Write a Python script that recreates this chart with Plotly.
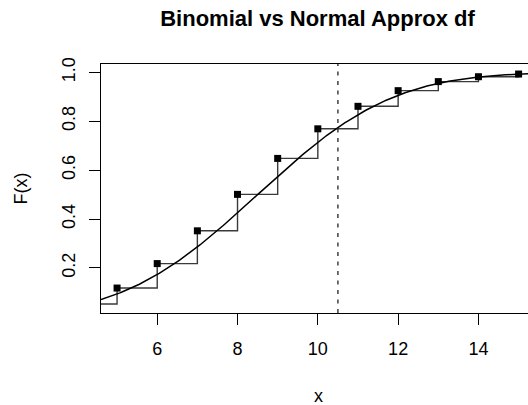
import math
import plotly.graph_objects as go

# Data
x_vals = [4, 5, 6, 7, 8, 9, 10, 11, 12, 13, 14, 15]
cdf_vals = [0.053, 0.118, 0.218, 0.352, 0.501, 0.648, 0.769, 0.861, 0.925, 0.962, 0.982, 0.993]
point_x = x_vals[1:]
point_y = cdf_vals[1:]
norm_mean = 8.5
norm_sd = 2.656
cut_x = 10.5
x_range = [4.6, 15.234]
y_range = [0.016, 1.034]
x_ticks = [6, 8, 10, 12, 14]
y_ticks = [0.2, 0.4, 0.6, 0.8, 1.0]
y_tick_text = ["0.2", "0.4", "0.6", "0.8", "1.0"]

# Normal approximation curve
n_grid = 300
grid = [x_range[0] + (x_range[1] + 0.2 - x_range[0]) * i / (n_grid - 1) for i in range(n_grid)]
curve = [0.5 * (1 + math.erf((g - norm_mean) / (norm_sd * math.sqrt(2)))) for g in grid]

FONT = "Liberation Sans, Arial, sans-serif"
L, T, B = 101, 64, 92
PW = 528 - L
PH = 405 - T - B

fig = go.Figure()
fig.add_trace(go.Scatter(x=x_vals, y=cdf_vals, mode="lines", line_shape="hv",
                         line=dict(color="#3a3a3a", width=1.4), showlegend=False))
fig.add_trace(go.Scatter(x=grid, y=curve, mode="lines",
                         line=dict(color="black", width=1.5), showlegend=False))
fig.add_trace(go.Scatter(x=point_x, y=point_y, mode="markers",
                         marker=dict(symbol="square", size=7, color="black"), showlegend=False))

fig.add_shape(type="line", xref="x", yref="paper", x0=cut_x, x1=cut_x, y0=0, y1=1,
              line=dict(color="#333333", width=1.4, dash="4px,5.5px"))

fig.update_layout(
    width=528, height=405,
    margin=dict(l=L, r=0, t=T, b=B, autoexpand=False),
    plot_bgcolor="white", paper_bgcolor="white",
    font=dict(family=FONT, size=18, color="black"),
    title=dict(text="<b>Binomial vs Normal Approx df</b>", x=317.5 / 528, xref="container",
               xanchor="center", y=1 - 18 / 405, yref="container", yanchor="middle",
               automargin=False,
               font=dict(size=22, family=FONT, color="black")),
    xaxis=dict(range=x_range, tickvals=x_ticks, showgrid=False, zeroline=False,
               showline=True, linecolor="black", linewidth=1.4, mirror=True,
               ticks="outside", ticklen=11, tickwidth=1.4, tickcolor="black",
               ticklabelstandoff=8,
               tickfont=dict(size=18), automargin=False),
    yaxis=dict(range=y_range, tickvals=y_ticks, ticktext=y_tick_text, showgrid=False,
               zeroline=False, showline=True, linecolor="black", linewidth=1.4,
               ticks="outside", ticklen=11, tickwidth=1.4, tickcolor="black",
               ticklabelstandoff=7,
               tickangle=-90, tickfont=dict(size=18), automargin=False),
    annotations=[
        dict(text="x", xref="paper", yref="paper", x=(318 - L) / PW, y=-(396 - (405 - B)) / PH,
             xanchor="center", yanchor="middle", showarrow=False, font=dict(size=18)),
        dict(text="F(x)", xref="paper", yref="paper", x=-(L - 20) / PW, y=0.5,
             xanchor="center", yanchor="middle", textangle=-90, showarrow=False,
             font=dict(size=18)),
    ],
)

fig.write_html("out.html", config={"displayModeBar": False},
               post_script="document.body.style.margin='0';document.body.style.overflow='hidden';")
